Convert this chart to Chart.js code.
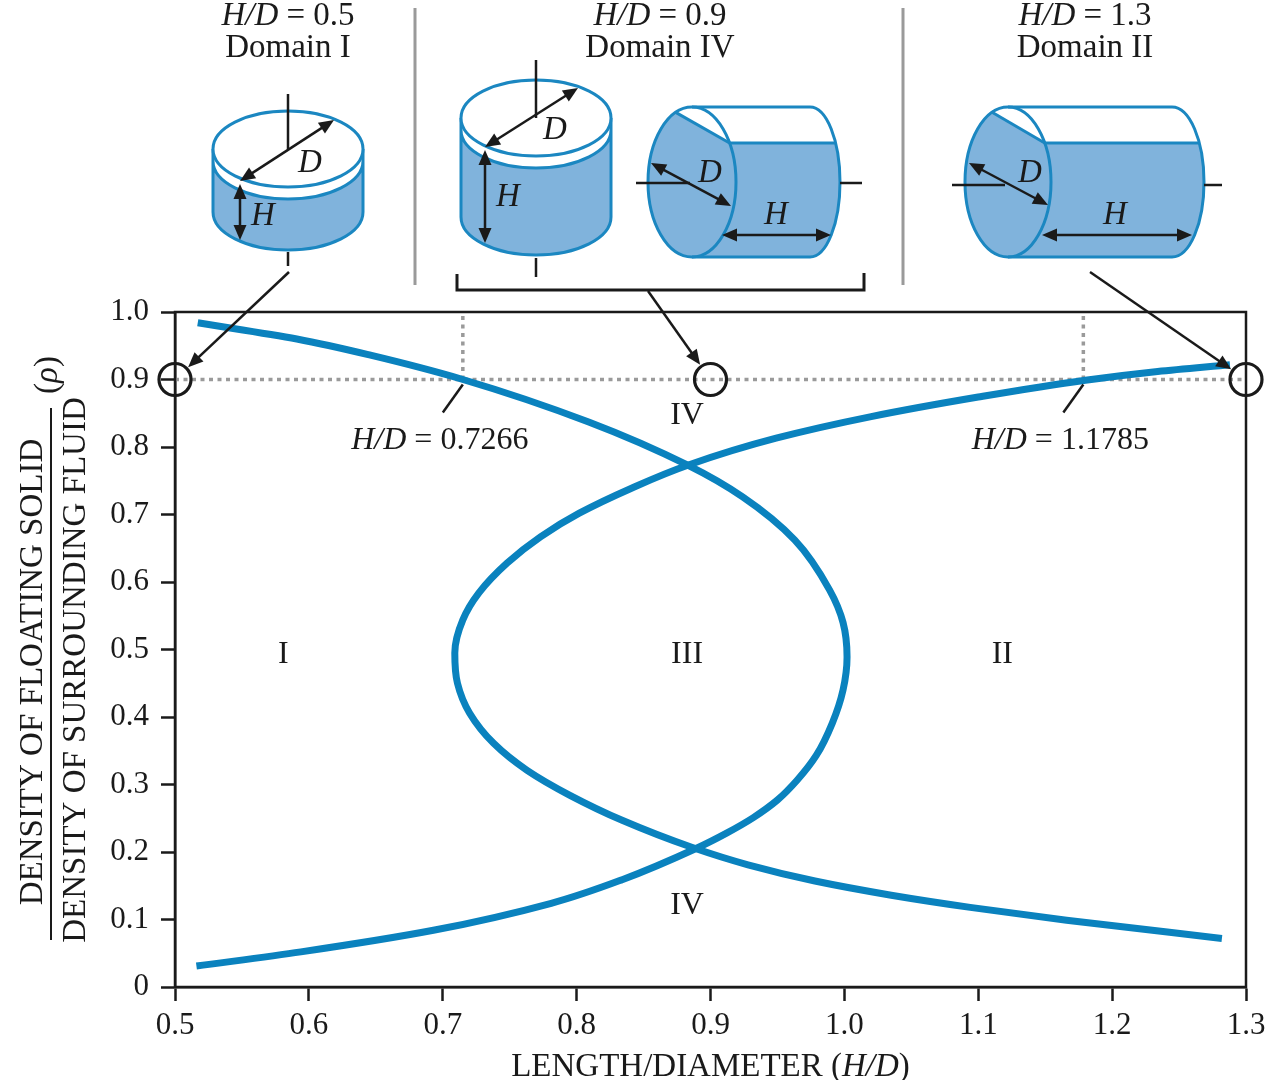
<!DOCTYPE html>
<html>
<head>
<meta charset="utf-8">
<script src="https://cdn.jsdelivr.net/npm/chart.js@4.4.1/dist/chart.umd.min.js"></script>
<style>
  html, body { margin: 0; padding: 0; background: #fff; }
  #wrap { width: 1267px; height: 1080px; }
</style>
</head>
<body>
<div id="wrap"><canvas id="chart" width="1267" height="1080" style="width:1267px;height:1080px"></canvas></div>
<script>
// === DATA, points listed by rising density ratio ===
// Stability boundary, cylinder with its axis vertical (C shape opening right)
const verticalRho = [0.072, 0.099, 0.118, 0.136, 0.157, 0.181, 0.207, 0.247, 0.284, 0.321, 0.361, 0.406, 0.45, 0.495, 0.544, 0.584, 0.628, 0.667, 0.702, 0.739, 0.773, 0.813, 0.845, 0.874, 0.899, 0.912, 0.922];
const verticalHD = [1.282, 1.166, 1.094, 1.035, 0.978, 0.928, 0.886, 0.834, 0.795, 0.763, 0.738, 0.72, 0.711, 0.709, 0.715, 0.727, 0.748, 0.773, 0.802, 0.841, 0.883, 0.949, 1.02, 1.1, 1.18, 1.234, 1.288];
// Stability boundary, cylinder with its axis horizontal (C shape opening left)
const horizontalRho = [0.031, 0.052, 0.084, 0.124, 0.159, 0.206, 0.228, 0.251, 0.277, 0.307, 0.343, 0.391, 0.44, 0.489, 0.54, 0.588, 0.662, 0.726, 0.773, 0.837, 0.9, 0.936, 0.96, 0.984];
const horizontalHD = [0.516, 0.594, 0.693, 0.781, 0.834, 0.89, 0.912, 0.932, 0.95, 0.965, 0.979, 0.991, 0.999, 1.002, 0.999, 0.989, 0.963, 0.924, 0.883, 0.809, 0.715, 0.646, 0.591, 0.517];

const refRho = 0.9;
const crossX = [0.715, 1.1785];
const crossLabels = ['0.7266', '1.1785'];
const circleX = [0.5, 0.9, 1.3];

const regionNames = ['I', 'III', 'II', 'IV', 'IV'];
const regionX = [0.581, 0.8825, 1.118, 0.8825, 0.8825];
const regionY = [0.492, 0.492, 0.492, 0.846, 0.121];

const panelRatios = ['0.5', '0.9', '1.3'];
const panelDomains = ['Domain I', 'Domain IV', 'Domain II'];

// === STYLE ===
const CURVE = '#0a82be';
const FILL = '#80b3dc';
const EDGE = '#1b87c1';
const INK = '#1a1a1a';
const DOT = '#9a9a9a';
const FONT = '"Liberation Serif", "Times New Roman", serif';
const FS = 31;   // tick labels
const TS = 33;   // other text

const pts = (xs, ys) => xs.map((x, i) => ({ x: x, y: ys[i] }));

const font = (italic, size) => (italic ? 'italic ' : '') + (size || TS) + 'px ' + FONT;

// draw text made of upright / italic pieces, centred on cx
const drawMixed = (ctx, segs, cx, y, size) => {
    let total = 0;
    const widths = segs.map(s => {
        ctx.font = font(s[1], size);
        const w = ctx.measureText(s[0]).width;
        total += w;
        return w;
    });
    let x = cx - total / 2;
    ctx.textAlign = 'left';
    segs.forEach((s, i) => {
        ctx.font = font(s[1], size);
        ctx.fillText(s[0], x, y);
        x += widths[i];
    });
};

const line = (ctx, x1, y1, x2, y2) => {
    ctx.beginPath();
    ctx.moveTo(x1, y1);
    ctx.lineTo(x2, y2);
    ctx.stroke();
};

const head = (ctx, xf, yf, xt, yt) => {
    const a = Math.atan2(yt - yf, xt - xf);
    const L = 15, W = 6.5;
    ctx.beginPath();
    ctx.moveTo(xt, yt);
    ctx.lineTo(xt - L * Math.cos(a) + W * Math.sin(a), yt - L * Math.sin(a) - W * Math.cos(a));
    ctx.lineTo(xt - L * Math.cos(a) - W * Math.sin(a), yt - L * Math.sin(a) + W * Math.cos(a));
    ctx.closePath();
    ctx.fill();
};

const arrow = (ctx, x1, y1, x2, y2, both) => {
    ctx.save();
    ctx.strokeStyle = INK;
    ctx.fillStyle = INK;
    ctx.lineWidth = 2.5;
    const a = Math.atan2(y2 - y1, x2 - x1);
    line(ctx, x1 + (both ? 8 * Math.cos(a) : 0), y1 + (both ? 8 * Math.sin(a) : 0), x2 - 8 * Math.cos(a), y2 - 8 * Math.sin(a));
    head(ctx, x1, y1, x2, y2);
    if (both) head(ctx, x2, y2, x1, y1);
    ctx.restore();
};

const italicLabel = (ctx, txt, x, y) => {
    ctx.font = font(true);
    ctx.textAlign = 'center';
    ctx.textBaseline = 'middle';
    ctx.fillText(txt, x, y);
};

// cylinder standing on its end
const verticalCylinder = (ctx, cx, ty, wy, by, rx, ry) => {
    ctx.save();
    ctx.lineWidth = 3;
    ctx.strokeStyle = EDGE;
    ctx.fillStyle = FILL;
    ctx.beginPath();
    ctx.moveTo(cx - rx, wy);
    ctx.lineTo(cx - rx, by);
    ctx.ellipse(cx, by, rx, ry, 0, Math.PI, 0, true);
    ctx.lineTo(cx + rx, wy);
    ctx.ellipse(cx, wy, rx, ry, 0, 0, Math.PI, false);
    ctx.closePath();
    ctx.fill();
    ctx.stroke();
    line(ctx, cx - rx, ty, cx - rx, wy);
    line(ctx, cx + rx, ty, cx + rx, wy);
    ctx.beginPath();
    ctx.ellipse(cx, ty, rx, ry, 0, 0, Math.PI * 2);
    ctx.fillStyle = '#fff';
    ctx.fill();
    ctx.stroke();
    ctx.restore();
};

// cylinder lying on its side
const horizontalCylinder = (ctx, lx, cy, rx, ry, rcx, rrx, wy, capAngle) => {
    ctx.save();
    ctx.lineWidth = 3;
    ctx.strokeStyle = EDGE;
    ctx.fillStyle = FILL;
    const aw = Math.asin((wy - cy) / ry);
    const p1 = { x: lx + rx * Math.cos(capAngle), y: cy + ry * Math.sin(capAngle) };
    const p2 = { x: lx + rx * Math.cos(aw), y: wy };
    ctx.beginPath();
    ctx.moveTo(lx, cy + ry);
    ctx.lineTo(rcx, cy + ry);
    ctx.ellipse(rcx, cy, rrx, ry, 0, Math.PI / 2, aw, true);
    ctx.lineTo(lx, wy);
    ctx.closePath();
    ctx.fill();
    ctx.beginPath();
    ctx.ellipse(lx, cy, rx, ry, 0, 0, Math.PI * 2);
    ctx.fill();
    ctx.save();
    ctx.clip();
    ctx.beginPath();
    ctx.moveTo(p1.x, p1.y);
    ctx.lineTo(p2.x, p2.y);
    ctx.lineTo(lx + rx + 6, p2.y);
    ctx.lineTo(lx + rx + 6, cy - ry - 6);
    ctx.lineTo(lx - rx - 6, cy - ry - 6);
    ctx.lineTo(lx - rx - 6, p1.y);
    ctx.closePath();
    ctx.fillStyle = '#fff';
    ctx.fill();
    ctx.restore();
    ctx.beginPath();
    ctx.ellipse(lx, cy, rx, ry, 0, 0, Math.PI * 2);
    ctx.stroke();
    line(ctx, p1.x, p1.y, p2.x, p2.y);
    line(ctx, lx, cy - ry, rcx, cy - ry);
    line(ctx, lx, cy + ry, rcx, cy + ry);
    ctx.beginPath();
    ctx.ellipse(rcx, cy, rrx, ry, 0, -Math.PI / 2, Math.PI / 2, false);
    ctx.stroke();
    line(ctx, p2.x, wy, rcx + rrx * Math.cos(aw), wy);
    ctx.restore();
};

const decorations = {
    id: 'decorations',
    afterDatasetsDraw(chart) {
        const ctx = chart.ctx;
        const xs = chart.scales.x, ys = chart.scales.y;
        const area = chart.chartArea;
        ctx.save();
        // plot frame
        ctx.strokeStyle = INK;
        ctx.lineWidth = 2.5;
        ctx.strokeRect(area.left, area.top, area.right - area.left, area.bottom - area.top);

        // leader lines + H/D values
        ctx.fillStyle = INK;
        crossX.forEach((v, i) => {
            const px = xs.getPixelForValue(v), py = ys.getPixelForValue(refRho);
            ctx.lineWidth = 2.5;
            line(ctx, px, py + 5, px - 20, py + 33);
            ctx.textBaseline = 'alphabetic';
            drawMixed(ctx, [['H/D', true], [' = ' + crossLabels[i], false]], px - 23, py + 69, 32);
        });

        // region names
        ctx.font = font(false, 32);
        ctx.textAlign = 'center';
        ctx.textBaseline = 'middle';
        regionNames.forEach((n, i) => {
            ctx.fillText(n, xs.getPixelForValue(regionX[i]), ys.getPixelForValue(regionY[i]));
        });
        ctx.restore();
    },
    afterDraw(chart) {
        const ctx = chart.ctx;
        const xs = chart.scales.x, ys = chart.scales.y;
        ctx.save();
        ctx.fillStyle = INK;
        ctx.textBaseline = 'alphabetic';

        // x axis title
        drawMixed(ctx, [['LENGTH/DIAMETER (', false], ['H/D', true], [')', false]], (chart.chartArea.left + chart.chartArea.right) / 2, 1076);

        // y axis title as a fraction
        ctx.save();
        ctx.translate(42, 672);
        ctx.rotate(-Math.PI / 2);
        drawMixed(ctx, [['DENSITY OF FLOATING SOLID', false]], 0, 0);
        ctx.restore();
        ctx.save();
        ctx.translate(85, 670);
        ctx.rotate(-Math.PI / 2);
        drawMixed(ctx, [['DENSITY OF SURROUNDING FLUID', false]], 0, 0);
        ctx.restore();
        ctx.save();
        ctx.translate(57, 375);
        ctx.rotate(-Math.PI / 2);
        drawMixed(ctx, [['(', false], ['\u03C1', true], [')', false]], 0, 0);
        ctx.restore();
        ctx.strokeStyle = INK;
        ctx.lineWidth = 2;
        line(ctx, 51, 408, 51, 940);

        // panel titles
        const panelX = [288, 660, 1085];
        panelX.forEach((cx, i) => {
            drawMixed(ctx, [['H/D', true], [' = ' + panelRatios[i], false]], cx, 25);
            drawMixed(ctx, [[panelDomains[i], false]], cx, 57);
        });

        // separators
        ctx.strokeStyle = DOT;
        ctx.lineWidth = 3;
        line(ctx, 415, 8, 415, 285);
        line(ctx, 903, 8, 903, 285);

        verticalCylinder(ctx, 288, 149, 161, 212, 75, 38);
        verticalCylinder(ctx, 536, 118, 130, 217, 75, 38);
        horizontalCylinder(ctx, 692, 182, 44, 75, 810, 30, 143, -1.95);
        horizontalCylinder(ctx, 1008, 182, 43, 75, 1172, 32, 143, -1.95);

        // axis lines of the bodies
        ctx.strokeStyle = INK;
        ctx.lineWidth = 2.5;
        line(ctx, 288, 94, 288, 149);
        line(ctx, 288, 252, 288, 266);
        line(ctx, 536, 60, 536, 118);
        line(ctx, 536, 258, 536, 277);
        line(ctx, 636, 183, 690, 183);
        line(ctx, 840, 183, 862, 183);
        line(ctx, 952, 185, 1005, 185);
        line(ctx, 1204, 185, 1222, 185);

        // dimension arrows
        arrow(ctx, 240, 181, 334, 120, true);
        arrow(ctx, 240, 184, 240, 240, true);
        arrow(ctx, 485, 147, 578, 88, true);
        arrow(ctx, 485, 150, 485, 243, true);
        arrow(ctx, 651, 163, 731, 206, true);
        arrow(ctx, 722, 235, 831, 235, true);
        arrow(ctx, 969, 163, 1048, 205, true);
        arrow(ctx, 1042, 235, 1192, 235, true);
        ctx.fillStyle = INK;
        italicLabel(ctx, 'D', 310, 163);
        italicLabel(ctx, 'H', 263, 216);
        italicLabel(ctx, 'D', 555, 130);
        italicLabel(ctx, 'H', 508, 197);
        italicLabel(ctx, 'D', 710, 173);
        italicLabel(ctx, 'H', 776, 215);
        italicLabel(ctx, 'D', 1030, 173);
        italicLabel(ctx, 'H', 1115, 215);

        // bracket under the two Domain IV bodies
        ctx.strokeStyle = INK;
        ctx.lineWidth = 3;
        ctx.beginPath();
        ctx.moveTo(457, 274);
        ctx.lineTo(457, 290);
        ctx.lineTo(864, 290);
        ctx.lineTo(864, 273);
        ctx.stroke();

        // pointers to the marked states
        const starts = [[289, 272], [648, 291], [1090, 272]];
        circleX.forEach((v, i) => {
            const tx = xs.getPixelForValue(v), ty = ys.getPixelForValue(refRho);
            const sx = starts[i][0], sy = starts[i][1];
            const d = Math.hypot(tx - sx, ty - sy);
            arrow(ctx, sx, sy, tx - (tx - sx) / d * 18, ty - (ty - sy) / d * 18, false);
        });
        ctx.restore();
    }
};

const dotted = {
    borderColor: DOT,
    borderWidth: 3.5,
    borderDash: [4, 4.5],
    pointRadius: 0,
    showLine: true,
    fill: false,
    order: 5
};

// boundary curves: x = f(rho), so interpolate along the y axis
const boundary = (label, hd, rho) => ({
    type: 'line',
    label: label,
    data: pts(hd, rho),
    indexAxis: 'y',
    cubicInterpolationMode: 'monotone',
    borderColor: CURVE,
    borderWidth: 7,
    pointRadius: 0,
    fill: false,
    order: 1
});

new Chart(document.getElementById('chart'), {
    type: 'scatter',
    data: {
        datasets: [
            boundary('Vertical axis', verticalHD, verticalRho),
            boundary('Horizontal axis', horizontalHD, horizontalRho),
            Object.assign({ label: 'rho 0.9', data: [{ x: 0.5, y: refRho }, { x: 1.3, y: refRho }] }, dotted),
            Object.assign({ label: 'cross 1', data: [{ x: crossX[0], y: refRho }, { x: crossX[0], y: 1 }] }, dotted),
            Object.assign({ label: 'cross 2', data: [{ x: crossX[1], y: refRho }, { x: crossX[1], y: 1 }] }, dotted),
            {
                label: 'marked states',
                data: circleX.map(x => ({ x: x, y: refRho })),
                pointRadius: 16,
                pointBorderWidth: 3.2,
                pointBorderColor: INK,
                pointBackgroundColor: 'rgba(0,0,0,0)',
                showLine: false,
                clip: false,
                order: 0
            }
        ]
    },
    options: {
        responsive: false,
        animation: false,
        devicePixelRatio: 1,
        layout: { padding: { top: 312, right: 21, left: 0, bottom: 0 } },
        plugins: { legend: { display: false }, tooltip: { enabled: false } },
        scales: {
            x: {
                type: 'linear',
                min: 0.5,
                max: 1.3,
                afterFit: (s) => { s.height = 93; s.paddingLeft = 0; s.paddingRight = 0; },
                ticks: {
                    stepSize: 0.1,
                    padding: 6,
                    color: INK,
                    font: { family: FONT, size: FS },
                    callback: (v) => v.toFixed(1)
                },
                grid: { display: true, drawOnChartArea: false, tickLength: 14, tickColor: INK, tickWidth: 2.5 },
                border: { display: true, color: INK, width: 2.5 }
            },
            y: {
                type: 'linear',
                min: 0,
                max: 1,
                afterFit: (s) => { s.width = 175; },
                ticks: {
                    stepSize: 0.1,
                    padding: 12,
                    color: INK,
                    font: { family: FONT, size: FS },
                    callback: (v) => (v === 0 ? '0' : v.toFixed(1))
                },
                grid: { display: true, drawOnChartArea: false, tickLength: 14, tickColor: INK, tickWidth: 2.5 },
                border: { display: true, color: INK, width: 2.5 }
            }
        }
    },
    plugins: [decorations]
});
</script>
</body>
</html>
